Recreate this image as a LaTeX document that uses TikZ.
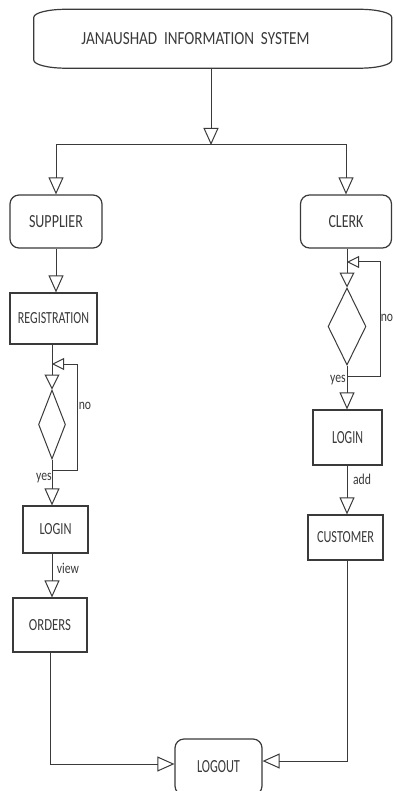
\documentclass[tikz,border=0pt]{standalone}
\usepackage{fontspec}
\usepackage{graphicx}
\setmainfont{Carlito}
\usetikzlibrary{arrows.meta,shapes.geometric}
\definecolor{ink}{HTML}{3A3A3A}
% caption text squeezed to a given width and cap height
\newcommand\capsfit[3]{\resizebox{#1pt}{#2pt}{#3}}
% small branch labels, set narrow
\newcommand\lowlbl[1]{\scalebox{0.78}[1]{\fontsize{15}{15}\selectfont #1}}

\begin{document}
\begin{tikzpicture}[x=1pt,y=1pt,
  box/.style={draw=ink, line width=1.2pt, inner sep=0pt, text=ink},
  rbox/.style={box, rounded corners=9pt},
  decision/.style={diamond, draw=ink, line width=1pt, inner sep=0pt},
  lbl/.style={inner sep=0pt, text=ink},
  flow/.style={draw=ink, line width=1pt, -{Triangle[open,length=17pt,width=15pt]}},
  loopflow/.style={draw=ink, line width=1pt, -{Triangle[open,length=12pt,width=12pt]}},
  entry/.style={draw=ink, line width=1pt, -{Triangle[open,length=15pt,width=15pt]}}
]
\useasboundingbox (0,0) rectangle (393,-791);
\fill[white] (0,0) rectangle (393,-791);

% title bar with softly rounded ends
\node[inner sep=0pt, minimum width=357.5pt, minimum height=58.5pt] (sys) at (212.75,-38.75) {};
\draw[ink, line width=1.2pt]
  ([xshift=32pt]sys.north west) -- ([xshift=-32pt]sys.north east)
  arc[start angle=90, end angle=0, x radius=32pt, y radius=8pt]
  -- ([yshift=8pt]sys.south east)
  arc[start angle=0, end angle=-90, x radius=32pt, y radius=8pt]
  -- ([xshift=32pt]sys.south west)
  arc[start angle=270, end angle=180, x radius=32pt, y radius=8pt]
  -- ([yshift=-8pt]sys.north west)
  arc[start angle=180, end angle=90, x radius=32pt, y radius=8pt] -- cycle;
\node[lbl] (systxt) at (195.5,-38.5) {\capsfit{228}{12}{JANAUSHAD\ \ INFORMATION\ \ SYSTEM}};

% split into the two roles
\coordinate (split) at (211,-145);
\draw[flow] (sys.south -| split) -- (split);
\node[rbox, minimum width=92pt, minimum height=53pt] (sup) at (56,-221.5) {\capsfit{54}{12}{SUPPLIER}};
\node[rbox, minimum width=91pt, minimum height=53pt] (clerk) at (346,-221.5) {\capsfit{35}{12}{CLERK}};
\draw[flow] (split) -| (sup.north);
\draw[flow] (split) -| (clerk.north);

% supplier branch
\node[box, minimum width=87pt, minimum height=51pt] (reg) at (53.5,-318.5) {\capsfit{71}{11}{REGISTRATION}};
\draw[flow] (sup.south) -- (sup.south |- reg.north);

\node[decision, minimum width=27pt, minimum height=69pt] (dl) at (52,-424.5) {};
\coordinate (lnoin) at (52,-364);
\coordinate (lyes) at (52,-470);
\draw[entry] (reg.south -| dl) -- (dl.north);
\draw[loopflow] (dl.south) -- (lyes) -- ++(25,0) |- (lnoin);
\node[lbl] (no1) at (85,-406) {\lowlbl{no}};
\node[lbl] (yes1) at (44,-478) {\lowlbl{yes}};

\node[box, minimum width=65pt, minimum height=47pt] (loginL) at (55.5,-529.5) {\capsfit{32}{11}{LOGIN}};
\draw[flow] (lyes) -- (lyes |- loginL.north);
\node[box, minimum width=74pt, minimum height=54pt] (orders) at (50,-625) {\capsfit{42}{11}{ORDERS}};
\draw[flow] (loginL.south -| lyes) -- (lyes |- orders.north);
\node[lbl] (view) at (68,-568) {\lowlbl{view}};

% common exit
\node[rbox, minimum width=87pt, minimum height=56pt] (logout) at (218.5,-767) {\capsfit{43}{12}{LOGOUT}};
\draw[flow] (orders.south) |- ([yshift=3pt]logout.west);

% clerk branch
\node[decision, minimum width=38pt, minimum height=77pt] (dr) at (347,-326.5) {};
\coordinate (rnoin) at (347,-262);
\coordinate (ryes) at (347,-376);
\draw[entry] (clerk.south -| dr) -- (dr.north);
\draw[loopflow] (dr.south) -- (ryes) -- ++(33,0) |- (rnoin);
\node[lbl] (no2) at (387,-318) {\lowlbl{no}};
\node[lbl] (yes2) at (338,-380) {\lowlbl{yes}};

\node[box, minimum width=69pt, minimum height=55pt] (loginR) at (347.5,-437.5) {\capsfit{31}{12}{LOGIN}};
\draw[flow] (ryes) -- (ryes |- loginR.north);
\node[box, minimum width=75pt, minimum height=45pt] (cust) at (345.5,-537.5) {\capsfit{57}{11}{CUSTOMER}};
\draw[flow] (loginR.south -| ryes) -- (ryes |- cust.north);
\node[lbl] (add) at (362,-479) {\lowlbl{add}};
\draw[flow] (cust.south -| ryes) |- ([yshift=6pt]logout.east);
\end{tikzpicture}
\end{document}
